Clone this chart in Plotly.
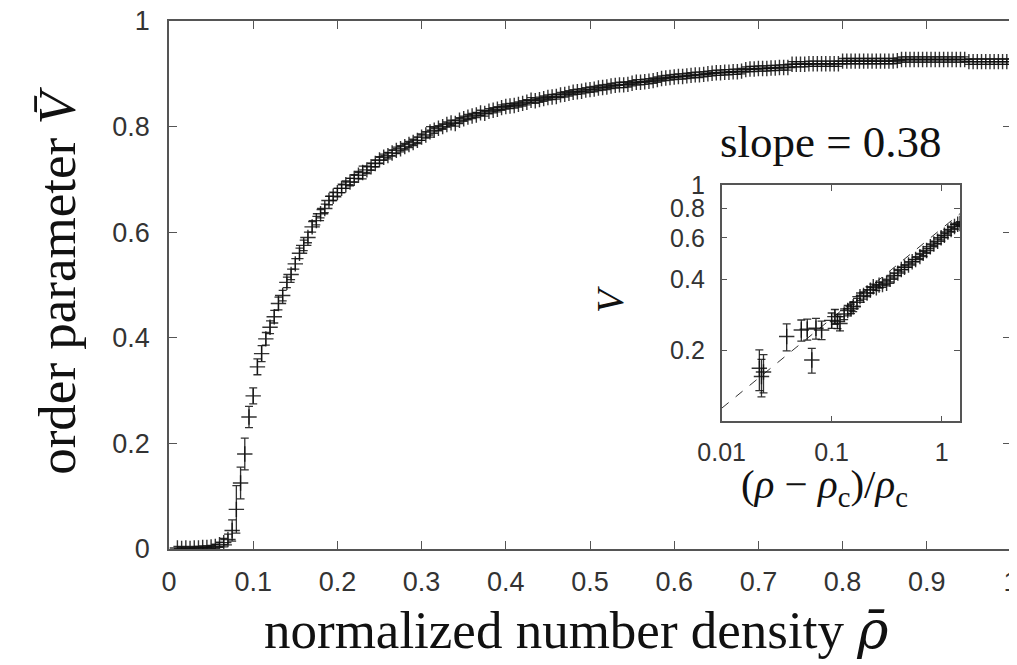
from __future__ import annotations

import plotly.graph_objects as go

# main panel: normalized density vs order parameter
rho = [
    0.010, 0.015, 0.020, 0.025, 0.030, 0.035, 0.040, 0.045, 0.050, 0.055,
    0.060, 0.065, 0.070, 0.075, 0.080, 0.085, 0.090, 0.095, 0.100, 0.105,
    0.110, 0.115, 0.120, 0.125, 0.130, 0.135, 0.140, 0.145, 0.150, 0.155,
    0.160, 0.165, 0.170, 0.175, 0.180, 0.185, 0.190, 0.195, 0.200, 0.205,
    0.210, 0.215, 0.220, 0.225, 0.230, 0.235, 0.240, 0.245, 0.250, 0.255,
    0.260, 0.265, 0.270, 0.275, 0.280, 0.285, 0.290, 0.295, 0.300, 0.305,
    0.310, 0.315, 0.320, 0.325, 0.330, 0.335, 0.340, 0.345, 0.350, 0.355,
    0.360, 0.365, 0.370, 0.375, 0.380, 0.385, 0.390, 0.395, 0.400, 0.405,
    0.410, 0.415, 0.420, 0.425, 0.430, 0.435, 0.440, 0.445, 0.450, 0.455,
    0.460, 0.465, 0.470, 0.475, 0.480, 0.485, 0.490, 0.495, 0.500, 0.505,
    0.510, 0.515, 0.520, 0.525, 0.530, 0.535, 0.540, 0.545, 0.550, 0.555,
    0.560, 0.565, 0.570, 0.575, 0.580, 0.585, 0.590, 0.595, 0.600, 0.605,
    0.610, 0.615, 0.620, 0.625, 0.630, 0.635, 0.640, 0.645, 0.650, 0.655,
    0.660, 0.665, 0.670, 0.675, 0.680, 0.685, 0.690, 0.695, 0.700, 0.705,
    0.710, 0.715, 0.720, 0.725, 0.730, 0.735, 0.740, 0.745, 0.750, 0.755,
    0.760, 0.765, 0.770, 0.775, 0.780, 0.785, 0.790, 0.795, 0.800, 0.805,
    0.810, 0.815, 0.820, 0.825, 0.830, 0.835, 0.840, 0.845, 0.850, 0.855,
    0.860, 0.865, 0.870, 0.875, 0.880, 0.885, 0.890, 0.895, 0.900, 0.905,
    0.910, 0.915, 0.920, 0.925, 0.930, 0.935, 0.940, 0.945, 0.950, 0.955,
    0.960, 0.965, 0.970, 0.975, 0.980, 0.985, 0.990, 0.995, 1.000,
]
v_bar = [
    0.002, 0.001, 0.002, 0.001, 0.002, 0.002, 0.003, 0.003, 0.004, 0.005,
    0.008, 0.012, 0.018, 0.035, 0.075, 0.125, 0.180, 0.250, 0.290, 0.345,
    0.370, 0.398, 0.420, 0.440, 0.465, 0.480, 0.505, 0.520, 0.540, 0.560,
    0.575, 0.590, 0.610, 0.622, 0.635, 0.645, 0.660, 0.668, 0.675, 0.683,
    0.690, 0.695, 0.702, 0.708, 0.713, 0.718, 0.724, 0.730, 0.737, 0.742,
    0.745, 0.750, 0.755, 0.758, 0.762, 0.766, 0.770, 0.774, 0.780, 0.784,
    0.790, 0.793, 0.797, 0.800, 0.804, 0.807, 0.806, 0.812, 0.815, 0.818,
    0.820, 0.822, 0.826, 0.825, 0.829, 0.831, 0.833, 0.836, 0.838, 0.839,
    0.840, 0.842, 0.844, 0.846, 0.850, 0.849, 0.851, 0.853, 0.855, 0.856,
    0.857, 0.860, 0.861, 0.863, 0.865, 0.866, 0.867, 0.869, 0.870, 0.871,
    0.873, 0.874, 0.875, 0.877, 0.878, 0.879, 0.879, 0.880, 0.882, 0.884,
    0.884, 0.885, 0.886, 0.887, 0.889, 0.891, 0.892, 0.893, 0.894, 0.895,
    0.895, 0.896, 0.897, 0.898, 0.898, 0.899, 0.900, 0.901, 0.902, 0.902,
    0.903, 0.903, 0.904, 0.904, 0.905, 0.908, 0.909, 0.909, 0.910, 0.910,
    0.910, 0.911, 0.911, 0.912, 0.912, 0.912, 0.918, 0.918, 0.918, 0.918,
    0.919, 0.919, 0.919, 0.919, 0.919, 0.919, 0.919, 0.919, 0.924, 0.924,
    0.924, 0.924, 0.924, 0.924, 0.924, 0.924, 0.924, 0.924, 0.924, 0.924,
    0.924, 0.925, 0.927, 0.927, 0.927, 0.927, 0.927, 0.927, 0.927, 0.927,
    0.927, 0.927, 0.927, 0.927, 0.927, 0.927, 0.927, 0.927, 0.923, 0.923,
    0.923, 0.923, 0.923, 0.923, 0.923, 0.923, 0.923, 0.923, 0.923,
]
v_bar_err = [
    0.003, 0.003, 0.003, 0.003, 0.003, 0.003, 0.003, 0.003, 0.003, 0.004,
    0.005, 0.008, 0.010, 0.020, 0.045, 0.030, 0.030, 0.020, 0.015, 0.015,
    0.015, 0.012, 0.012, 0.012, 0.012, 0.010, 0.010, 0.010, 0.010, 0.010,
    0.010, 0.010, 0.010, 0.008, 0.008, 0.008, 0.008, 0.008, 0.008, 0.008,
    0.007, 0.007, 0.007, 0.007, 0.012, 0.007, 0.007, 0.006, 0.006, 0.006,
    0.006, 0.006, 0.006, 0.006, 0.006, 0.006, 0.006, 0.006, 0.006, 0.006,
    0.010, 0.006, 0.005, 0.005, 0.005, 0.005, 0.005, 0.005, 0.005, 0.005,
    0.005, 0.005, 0.005, 0.005, 0.005, 0.005, 0.005, 0.005, 0.005, 0.005,
    0.005, 0.005, 0.005, 0.005, 0.005, 0.005, 0.005, 0.005, 0.005, 0.005,
    0.005, 0.005, 0.005, 0.005, 0.005, 0.005, 0.005, 0.005, 0.005, 0.005,
    0.005, 0.005, 0.005, 0.005, 0.005, 0.005, 0.005, 0.005, 0.005, 0.005,
    0.005, 0.005, 0.005, 0.005, 0.005, 0.005, 0.005, 0.005, 0.005, 0.005,
    0.005, 0.005, 0.005, 0.005, 0.005, 0.005, 0.005, 0.005, 0.005, 0.005,
    0.005, 0.005, 0.005, 0.005, 0.005, 0.005, 0.005, 0.005, 0.005, 0.005,
    0.005, 0.005, 0.005, 0.005, 0.005, 0.005, 0.005, 0.005, 0.005, 0.005,
    0.005, 0.005, 0.005, 0.005, 0.005, 0.005, 0.005, 0.005, 0.005, 0.005,
    0.005, 0.005, 0.005, 0.005, 0.005, 0.005, 0.005, 0.005, 0.005, 0.005,
    0.005, 0.005, 0.005, 0.005, 0.005, 0.005, 0.005, 0.005, 0.005, 0.005,
    0.005, 0.005, 0.005, 0.005, 0.005, 0.005, 0.005, 0.005, 0.005, 0.005,
    0.005, 0.005, 0.005, 0.005, 0.005, 0.005, 0.005, 0.005, 0.005,
]

# inset: log-log scaling near the transition
reduced_rho = [
    0.022, 0.023, 0.024, 0.039, 0.053, 0.060, 0.066, 0.072, 0.081, 0.100,
    0.107, 0.113, 0.119, 0.130, 0.140, 0.150, 0.157, 0.170, 0.181, 0.195,
    0.210, 0.225, 0.239, 0.255, 0.270, 0.290, 0.316, 0.340, 0.370, 0.400,
    0.430, 0.460, 0.500, 0.540, 0.580, 0.635, 0.680, 0.730, 0.790, 0.850,
    0.920, 0.990, 1.060, 1.140, 1.220, 1.310, 1.400, 1.470,
]
v_inset = [
    0.168, 0.155, 0.162, 0.229, 0.244, 0.246, 0.182, 0.248, 0.244, 0.268,
    0.278, 0.265, 0.260, 0.285, 0.295, 0.300, 0.306, 0.320, 0.338, 0.342,
    0.350, 0.360, 0.372, 0.368, 0.378, 0.380, 0.385, 0.400, 0.415, 0.425,
    0.440, 0.450, 0.460, 0.475, 0.485, 0.499, 0.515, 0.530, 0.550, 0.565,
    0.580, 0.600, 0.615, 0.635, 0.650, 0.670, 0.685, 0.690,
]
v_inset_err = [
    0.033, 0.028, 0.030, 0.030, 0.025, 0.025, 0.022, 0.025, 0.022, 0.020,
    0.020, 0.018, 0.018, 0.015, 0.015, 0.014, 0.014, 0.012, 0.012, 0.012,
    0.012, 0.010, 0.010, 0.010, 0.010, 0.010, 0.010, 0.010, 0.010, 0.010,
    0.010, 0.010, 0.010, 0.010, 0.010, 0.010, 0.010, 0.010, 0.010, 0.010,
    0.012, 0.012, 0.012, 0.012, 0.012, 0.012, 0.012, 0.012,
]

# power-law fit drawn in the inset, slope 0.38
fit_x = [0.01, 1.5]
fit_y = [0.1137, 0.765]

main_xticks = [0, 0.1, 0.2, 0.3, 0.4, 0.5, 0.6, 0.7, 0.8, 0.9, 1]
main_xlabels = ["0", "0.1", "0.2", "0.3", "0.4", "0.5", "0.6", "0.7", "0.8", "0.9", "1"]
main_yticks = [0, 0.2, 0.4, 0.6, 0.8, 1]
main_ylabels = ["0", "0.2", "0.4", "0.6", "0.8", "1"]
inset_xticks = [0.01, 0.1, 1]
inset_xlabels = ["0.01", "0.1", "1"]
inset_yticks = [0.2, 0.4, 0.6, 0.8, 1]
inset_ylabels = ["0.2", "0.4", "0.6", "0.8", "1"]

INK = "rgba(15,15,15,0.85)"
FRAME = "#555555"
SERIF = "Liberation Serif, DejaVu Serif, serif"
SANS = "Liberation Sans, Arial, sans-serif"


def _errorbar_trace(x, y, err, xaxis="x", yaxis="y"):
    return go.Scatter(
        x=x,
        y=y,
        mode="markers",
        xaxis=xaxis,
        yaxis=yaxis,
        marker=dict(symbol="cross-thin", size=11, line=dict(width=1.4, color=INK)),
        error_y=dict(type="data", array=err, thickness=1.3, width=4, color=INK),
        showlegend=False,
    )


def _axis(**kw):
    base = dict(
        showline=True,
        linecolor=FRAME,
        linewidth=1.6,
        mirror="ticks",
        ticks="inside",
        ticklen=8,
        tickwidth=1.4,
        tickcolor=FRAME,
        showgrid=False,
        zeroline=False,
        automargin=False,
        ticklabeloverflow="allow",
    )
    base.update(kw)
    return base


def _label(text, x, y, size, angle=0):
    return dict(
        text=text, x=x, y=y, xref="paper", yref="paper",
        xanchor="center", yanchor="middle", textangle=angle,
        showarrow=False, font=dict(family=SERIF, size=size, color="#111111"),
    )


fig = go.Figure()
fig.add_trace(_errorbar_trace(rho, v_bar, v_bar_err))
fig.add_trace(
    go.Scatter(
        x=fit_x,
        y=fit_y,
        mode="lines",
        xaxis="x2",
        yaxis="y2",
        line=dict(color="#333333", width=1, dash="dash"),
        showlegend=False,
    )
)
fig.add_trace(_errorbar_trace(reduced_rho, v_inset, v_inset_err, "x2", "y2"))

# the page body adds an 8px offset, so margins are shifted to compensate
fig.update_layout(
    width=1017,
    height=657,
    margin=dict(l=161, r=14, t=13, b=116),
    paper_bgcolor="white",
    plot_bgcolor="white",
    xaxis=_axis(
        range=[0, 1],
        tickvals=main_xticks,
        ticktext=main_xlabels,
        tickfont=dict(family=SANS, size=27, color="#333333"),
        ticklabelstandoff=8,
    ),
    yaxis=_axis(
        range=[0, 1],
        tickvals=main_yticks,
        ticktext=main_ylabels,
        tickfont=dict(family=SANS, size=27, color="#333333"),
        ticklabelstandoff=12,
    ),
    xaxis2=_axis(
        type="log",
        range=[-2, 0.167],
        domain=[0.6564, 0.9394],
        anchor="y2",
        tickvals=inset_xticks,
        ticktext=inset_xlabels,
        ticklen=6,
        tickfont=dict(family=SANS, size=25, color="#333333"),
        ticklabelstandoff=8,
    ),
    yaxis2=_axis(
        type="log",
        range=[-1, 0],
        domain=[0.2417, 0.6886],
        anchor="x2",
        tickvals=inset_yticks,
        ticktext=inset_ylabels,
        ticklen=6,
        tickfont=dict(family=SANS, size=25, color="#333333"),
        ticklabelstandoff=10,
    ),
    annotations=[
        _label(
            "normalized number density "
            "<span style='font-family:DejaVu Serif'><i>ρ̄</i></span>",
            0.483, -0.153, 53,
        ),
        _label("order parameter <i>V̄</i>", -0.133, 0.508, 53, angle=-90),
        _label("slope = 0.38", 0.786, 0.771, 45),
        _label(
            "(<i>ρ</i> − <i>ρ</i><sub>c</sub>)/<i>ρ</i><sub>c</sub>",
            0.778, 0.117, 41,
        ),
        _label("<i>V</i>", 0.524, 0.472, 38, angle=-90),
    ],
)

fig.write_html("out.html")
